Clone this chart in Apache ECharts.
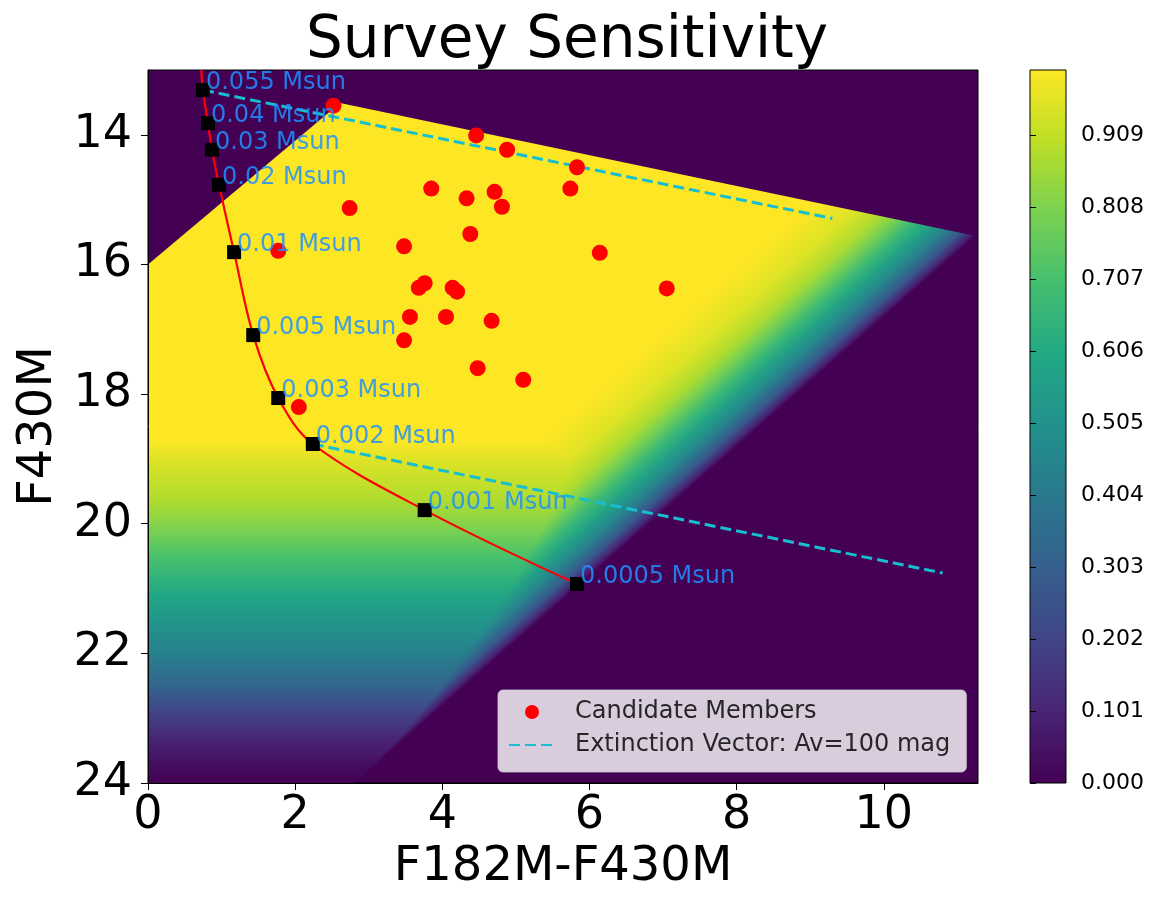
<!DOCTYPE html>
<html>
<head>
<meta charset="utf-8">
<title>Survey Sensitivity</title>
<script src="https://cdn.jsdelivr.net/npm/echarts@6/dist/echarts.min.js"></script>
<style>
    html, body { margin: 0; padding: 0; background: #fff; }
    #chart { width: 1156px; height: 903px; }
</style>
</head>
<body>
<div id="chart"></div>
<script>
    // isochrone: black squares, their mass labels, and the red track through them
    var isoColor = [0.747, 0.815, 0.87, 0.965, 1.17, 1.43, 1.77, 2.24, 3.76, 5.83];
    var isoMag = [13.31, 13.82, 14.23, 14.77, 15.81, 17.09, 18.06, 18.77, 19.79, 20.93];
    var isoLabel = ['0.055 Msun', '0.04 Msun', '0.03 Msun', '0.02 Msun', '0.01 Msun',
        '0.005 Msun', '0.003 Msun', '0.002 Msun', '0.001 Msun', '0.0005 Msun'];
    var trackTop = [0.725, 13.0];   // track runs on past the top of the plot

    // candidate members (red dots)
    var candColor = [2.52, 4.46, 4.88, 5.83, 3.85, 5.74, 4.71, 4.33, 4.81, 2.74, 4.38, 3.48, 1.77,
        6.14, 3.76, 3.68, 4.14, 4.20, 7.05, 3.56, 4.05, 4.67, 3.48, 4.48, 5.10, 2.05];
    var candMag = [13.55, 14.01, 14.23, 14.50, 14.83, 14.83, 14.88, 14.98, 15.11, 15.13, 15.53, 15.72, 15.79,
        15.82, 16.29, 16.36, 16.36, 16.42, 16.37, 16.81, 16.81, 16.87, 17.17, 17.60, 17.78, 18.20];

    // extinction vectors (Av = 100 mag)
    var ext1Color = [0.747, 9.30], ext1Mag = [13.31, 15.29];
    var ext2Color = [2.24, 10.80], ext2Mag = [18.77, 20.76];

    // outline of the area with non-zero completeness (colour, F430M)
    var regionColor = [0, 2.61, 11.25, 2.81, 0];
    var regionMag = [16.0, 13.51, 15.56, 24.0, 24.0];

    // completeness against F430M (fall-off toward the bottom)
    var magF430 = [18.71, 19.02, 19.63, 20.10, 20.56, 21.07, 21.49, 22.00, 22.52, 22.92, 23.34, 23.75, 24.0];
    var compF430 = [1.00, 0.95, 0.88, 0.80, 0.70, 0.60, 0.52, 0.43, 0.32, 0.20, 0.10, 0.03, 0.0];
    // completeness against F182M = colour + F430M (diagonal fall-off)
    var magF182 = [24.10, 24.77, 25.18, 25.45, 25.73, 26.00, 26.27, 26.54, 26.72, 26.81];
    var compF182 = [1.00, 0.95, 0.88, 0.80, 0.68, 0.58, 0.45, 0.28, 0.10, 0.0];

    var xTicks = [0, 2, 4, 6, 8, 10];
    var yTicks = [14, 16, 18, 20, 22, 24];
    var cbarTicks = [0.000, 0.101, 0.202, 0.303, 0.404, 0.505, 0.606, 0.707, 0.808, 0.909];

    var viridis = ['#440154', '#482475', '#414487', '#355f8d', '#2a788e', '#21918c',
        '#22a884', '#44bf70', '#7ad151', '#bddf26', '#fde725'];

    var FONT = 'DejaVu Sans';
    var extName = 'Extinction Vector: Av=100 mag';

    function hexRgb(h) {
        return [parseInt(h.substr(1, 2), 16), parseInt(h.substr(3, 2), 16), parseInt(h.substr(5, 2), 16)];
    }
    function cmap(v) {
        var t = Math.max(0, Math.min(1, v)) * (viridis.length - 1);
        var i = Math.min(Math.floor(t), viridis.length - 2), f = t - i;
        var a = hexRgb(viridis[i]), b = hexRgb(viridis[i + 1]);
        return 'rgb(' + Math.round(a[0] + (b[0] - a[0]) * f) + ',' + Math.round(a[1] + (b[1] - a[1]) * f) +
            ',' + Math.round(a[2] + (b[2] - a[2]) * f) + ')';
    }
    // F182M at which the diagonal completeness equals c
    function magAtF182(c) {
        for (var i = 0; i < compF182.length - 1; i++) {
            if (c <= compF182[i] && c >= compF182[i + 1]) {
                var f = (compF182[i] - c) / (compF182[i] - compF182[i + 1]);
                return magF182[i] + (magF182[i + 1] - magF182[i]) * f;
            }
        }
        return magF182[magF182.length - 1];
    }

    function renderField(params, api) {
        // diagonal part: gradient along s = colour + F430M
        var o = api.coord([0, 20]), ex = api.coord([1, 20]), ey = api.coord([0, 21]);
        var gx = 1 / (ex[0] - o[0]), gy = 1 / (ey[1] - o[1]);
        var g2 = gx * gx + gy * gy;
        var s0 = magF182[0], s1 = magF182[magF182.length - 1];
        var A = api.coord([s0 - 20, 20]);
        var t = (s1 - s0) / g2;
        var stopsD = magF182.map(function (m, i) {
            return {offset: (m - s0) / (s1 - s0), color: cmap(compF182[i])};
        });
        var gradD = new echarts.graphic.LinearGradient(A[0], A[1], A[0] + gx * t, A[1] + gy * t, stopsD, true);
        var ptsD = regionColor.map(function (c, i) { return api.coord([c, regionMag[i]]); });

        // lower part, where the F430M limit is the tighter one
        var m0 = magF430[0], m1 = magF430[magF430.length - 1];
        var ptsL = [api.coord([0, m0])];
        magF430.forEach(function (m, i) {
            ptsL.push(api.coord([magAtF182(compF430[i]) - m, m]));
        });
        ptsL.push(api.coord([0, m1]));
        var stopsL = magF430.map(function (m, i) {
            return {offset: (m - m0) / (m1 - m0), color: cmap(compF430[i])};
        });
        var top = api.coord([0, m0]), bot = api.coord([0, m1]);
        var gradL = new echarts.graphic.LinearGradient(top[0], top[1], bot[0], bot[1], stopsL, true);

        return {
            type: 'group',
            children: [
                {type: 'polygon', shape: {points: ptsD}, style: {fill: gradD}},
                {type: 'polygon', shape: {points: ptsL}, style: {fill: gradL}}
            ]
        };
    }

    function renderBar(params, api) {
        var p0 = api.coord([0, 1]), p1 = api.coord([1, 0]);
        var stops = viridis.map(function (c, i) {
            return {offset: 1 - i / (viridis.length - 1), color: c};
        });
        return {
            type: 'rect',
            shape: {x: p0[0], y: p0[1], width: p1[0] - p0[0], height: p1[1] - p0[1]},
            style: {fill: new echarts.graphic.LinearGradient(0, 0, 0, 1, stops), stroke: '#000', lineWidth: 1}
        };
    }

    var isoData = isoColor.map(function (c, i) { return [c, isoMag[i]]; });
    var candData = candColor.map(function (c, i) { return [c, candMag[i]]; });

    var myChart = echarts.init(document.getElementById('chart'));
    var option = {
        animation: false,
        textStyle: {fontFamily: FONT},
        title: {
            text: 'Survey Sensitivity',
            left: 301,
            top: 8,
            textStyle: {fontFamily: FONT, fontSize: 58, fontWeight: 'normal', color: '#000'}
        },
        legend: {
            data: [
                'Candidate Members',
                // dashed line only, no dot in the middle
                {name: extName, itemStyle: {color: 'rgba(0,0,0,0)', borderWidth: 0}}
            ],
            orient: 'vertical',
            left: 498,
            top: 690,
            selectedMode: false,
            backgroundColor: 'rgba(255,255,255,0.8)',
            borderColor: 'rgba(204,204,204,0.8)',
            borderWidth: 1,
            borderRadius: 5,
            padding: [10, 16, 15, 10],
            itemGap: 9,
            itemWidth: 46,
            itemHeight: 14,
            textStyle: {fontFamily: FONT, fontSize: 24, color: '#262626', padding: [0, 0, 0, 15]}
        },
        grid: [
            {left: 148, right: 178, top: 70, bottom: 120, show: true,
                backgroundColor: '#440154', borderColor: '#000', borderWidth: 1},
            {left: 1030, width: 36, top: 70, bottom: 120}
        ],
        xAxis: [
            {
                type: 'value', gridIndex: 0, min: 0, max: 11.28, z: 5,
                name: 'F182M-F430M', nameLocation: 'middle', nameGap: 42,
                nameTextStyle: {fontFamily: FONT, fontSize: 48, color: '#000'},
                axisLine: {show: true, onZero: false, lineStyle: {color: '#000', width: 1}},
                axisTick: {show: true, length: 7, customValues: xTicks, lineStyle: {color: '#000'}},
                axisLabel: {customValues: xTicks, fontSize: 46, color: '#000', margin: 10},
                splitLine: {show: false}
            },
            {type: 'value', gridIndex: 1, min: 0, max: 1, show: false}
        ],
        yAxis: [
            {
                type: 'value', gridIndex: 0, min: 13, max: 24, inverse: true, z: 5,
                name: 'F430M', nameLocation: 'middle', nameGap: 84,
                nameTextStyle: {fontFamily: FONT, fontSize: 48, color: '#000'},
                axisLine: {show: true, onZero: false, lineStyle: {color: '#000', width: 1}},
                axisTick: {show: true, length: 7, customValues: yTicks, lineStyle: {color: '#000'}},
                axisLabel: {customValues: yTicks, fontSize: 46, color: '#000', margin: 16},
                splitLine: {show: false}
            },
            {
                type: 'value', gridIndex: 1, min: 0, max: 1, position: 'right', z: 5,
                axisLine: {show: false},
                axisTick: {show: true, length: 6, customValues: cbarTicks, lineStyle: {color: '#000'}},
                axisLabel: {
                    customValues: cbarTicks, fontSize: 22, color: '#000', margin: 15,
                    formatter: function (v) { return v.toFixed(3); }
                },
                splitLine: {show: false}
            }
        ],
        series: [
            {
                type: 'custom', name: 'field', xAxisIndex: 0, yAxisIndex: 0,
                silent: true, z: 1, data: [0], renderItem: renderField
            },
            {
                type: 'custom', name: 'colorbar', xAxisIndex: 1, yAxisIndex: 1,
                silent: true, z: 1, data: [0], renderItem: renderBar
            },
            {
                type: 'line', name: 'track', data: [trackTop].concat(isoData),
                smooth: 0.35, showSymbol: false, symbol: 'none', z: 2,
                lineStyle: {color: '#ff0000', width: 2.2}
            },
            {
                type: 'line', name: extName,
                data: ext1Color.map(function (c, i) { return [c, ext1Mag[i]]; }),
                symbol: 'none', z: 3,
                lineStyle: {color: '#17becf', width: 3, type: [11, 5]},
                itemStyle: {color: '#17becf'}
            },
            {
                type: 'line', name: extName,
                data: ext2Color.map(function (c, i) { return [c, ext2Mag[i]]; }),
                symbol: 'none', z: 3,
                lineStyle: {color: '#17becf', width: 3, type: [11, 5]},
                itemStyle: {color: '#17becf'}
            },
            {
                type: 'scatter', name: 'Candidate Members', data: candData,
                symbol: 'circle', symbolSize: 16, z: 3,
                itemStyle: {color: '#ff0000', opacity: 1}
            },
            {
                type: 'scatter', name: 'masses', data: isoData,
                symbol: 'rect', symbolSize: 14, z: 4,
                itemStyle: {color: '#000', opacity: 1},
                label: {
                    show: true,
                    formatter: function (p) { return isoLabel[p.dataIndex]; },
                    position: [10, 12], align: 'left', verticalAlign: 'bottom',
                    fontFamily: FONT, fontSize: 24, color: 'rgba(30,144,255,0.85)'
                }
            }
        ]
    };

    myChart.setOption(option);
    window.onresize = function () {
        myChart.resize();
    };
</script>
</body>
</html>
